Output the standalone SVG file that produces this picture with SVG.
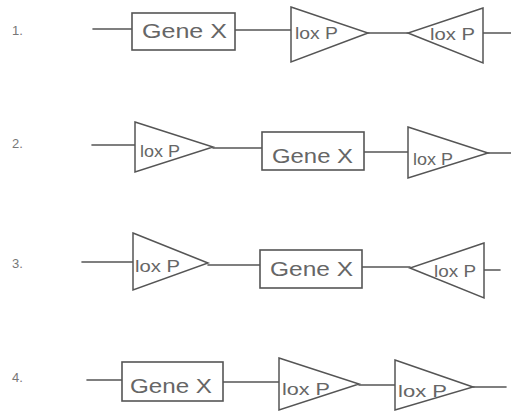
<svg xmlns="http://www.w3.org/2000/svg" width="511" height="412" viewBox="0 0 511 412">
<style>
.ln{stroke:#555;stroke-width:1.6;fill:none;stroke-linecap:round}
.gene{fill:#fff;stroke:#555;stroke-width:1.6}
.lox{fill:#fff;stroke:#555;stroke-width:1.5;stroke-linejoin:miter}
.gt{font-family:"Liberation Sans",Arial,sans-serif;font-size:20px;fill:#666}
.lt{font-family:"Liberation Sans",Arial,sans-serif;font-size:16px;fill:#666}
.num{font-family:"Liberation Sans",Arial,sans-serif;font-size:13px;fill:#777}
</style>
<rect width="511" height="412" fill="#fff"/>
<g id="labels">
<text class="num" x="12" y="35">1.</text>
<text class="num" x="12" y="148">2.</text>
<text class="num" x="12" y="268">3.</text>
<text class="num" x="12" y="382">4.</text>
</g>
<g id="connectors">
<line class="ln" x1="93" y1="29" x2="132" y2="29"/>
<line class="ln" x1="235" y1="30" x2="291" y2="30"/>
<line class="ln" x1="368" y1="33" x2="408" y2="33"/>
<line class="ln" x1="483" y1="33" x2="511" y2="33"/>
<line class="ln" x1="92" y1="145" x2="135" y2="145"/>
<line class="ln" x1="213" y1="148" x2="262" y2="148"/>
<line class="ln" x1="364" y1="152" x2="408" y2="152"/>
<line class="ln" x1="488" y1="153" x2="511" y2="153"/>
<line class="ln" x1="82" y1="262" x2="133" y2="262"/>
<line class="ln" x1="208" y1="265" x2="260" y2="265"/>
<line class="ln" x1="362" y1="267" x2="410" y2="267"/>
<line class="ln" x1="484" y1="270" x2="500" y2="270"/>
<line class="ln" x1="87" y1="380" x2="122" y2="380"/>
<line class="ln" x1="223" y1="382" x2="279" y2="382"/>
<line class="ln" x1="359" y1="385" x2="395" y2="385"/>
<line class="ln" x1="473" y1="387" x2="506" y2="387"/>
</g>
<g id="r1-gene"><rect class="gene" x="132" y="13" width="103" height="37"/><text class="gt" x="142" y="38" textLength="85" lengthAdjust="spacingAndGlyphs">Gene X</text></g>
<g id="r1-lox1"><polygon class="lox" points="291,7 368,33 291,62"/><text class="lt" x="295" y="39" textLength="43" lengthAdjust="spacingAndGlyphs">lox P</text></g>
<g id="r1-lox2"><polygon class="lox" points="483,8 408,33 483,63"/><text class="lt" x="430" y="40" textLength="45" lengthAdjust="spacingAndGlyphs">lox P</text></g>
<g id="r2-lox1"><polygon class="lox" points="135,122 213,147 135,172"/><text class="lt" x="140" y="157" textLength="40" lengthAdjust="spacingAndGlyphs">lox P</text></g>
<g id="r2-gene"><rect class="gene" x="262" y="132" width="102" height="38"/><text class="gt" x="272" y="163" textLength="81" lengthAdjust="spacingAndGlyphs">Gene X</text></g>
<g id="r2-lox2"><polygon class="lox" points="408,127 488,153 408,178"/><text class="lt" x="413" y="165" textLength="40" lengthAdjust="spacingAndGlyphs">lox P</text></g>
<g id="r3-lox1"><polygon class="lox" points="133,233 208,263 133,290"/><text class="lt" x="135" y="272" textLength="45" lengthAdjust="spacingAndGlyphs">lox P</text></g>
<g id="r3-gene"><rect class="gene" x="260" y="250" width="102" height="38"/><text class="gt" x="270" y="276" textLength="83" lengthAdjust="spacingAndGlyphs">Gene X</text></g>
<g id="r3-lox2"><polygon class="lox" points="484,243 410,268 484,298"/><text class="lt" x="434" y="277" textLength="42" lengthAdjust="spacingAndGlyphs">lox P</text></g>
<g id="r4-gene"><rect class="gene" x="122" y="362" width="101" height="39"/><text class="gt" x="130" y="393" textLength="82" lengthAdjust="spacingAndGlyphs">Gene X</text></g>
<g id="r4-lox1"><polygon class="lox" points="279,358 359,384 279,410"/><text class="lt" x="282" y="395" textLength="48" lengthAdjust="spacingAndGlyphs">lox P</text></g>
<g id="r4-lox2"><polygon class="lox" points="395,360 473,387 395,410"/><text class="lt" x="398" y="397" textLength="49" lengthAdjust="spacingAndGlyphs">lox P</text></g>
</svg>
